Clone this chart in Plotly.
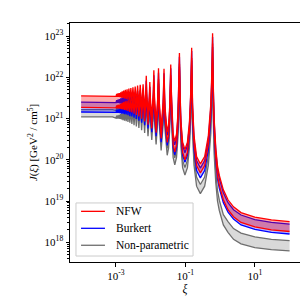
import plotly.graph_objects as go

# xi grid (read positions of resonances / troughs)
xi = [1e-4, 3e-4, 6e-4, 8e-4,
      0.001013, 0.001056, 0.001101, 0.001149, 0.001201, 0.001256, 0.001315, 0.001379, 0.001447, 0.00152,
      0.001599, 0.001684, 0.001777, 0.001877, 0.001985, 0.002104, 0.002233, 0.002375, 0.002531, 0.002702,
      0.002892, 0.003102, 0.003336, 0.003598, 0.003891, 0.004222, 0.004597, 0.005025, 0.005515, 0.00608,
      0.006737, 0.007262, 0.007506, 0.007763, 0.008415, 0.009154, 0.0095, 0.009867, 0.01081, 0.01189, 0.01241,
      0.01296, 0.01439, 0.01608, 0.01689, 0.01777, 0.0201, 0.02292, 0.02432, 0.02585,
      0.03003, 0.03288, 0.0353, 0.03689, 0.038, 0.03917, 0.04102, 0.04441, 0.04963, 0.05583, 0.06128, 0.06493, 0.06666, 0.06756,
      0.06847, 0.07034, 0.07485, 0.0834, 0.09728, 0.1149, 0.1315, 0.1433, 0.149, 0.152,
      0.1551, 0.1616, 0.1777, 0.2104, 0.2702, 0.3598, 0.4597, 0.5411, 0.5844, 0.608,
      0.6331, 0.6737, 0.7506, 0.8415, 0.95, 1.241,
      1.689, 2.432, 4, 10, 30, 100]

# log10 J values
nfw_hi = [21.55, 21.55, 21.55, 21.55,
          21.54, 21.60, 21.53, 21.61, 21.53, 21.62, 21.52, 21.64, 21.51, 21.66,
          21.50, 21.68, 21.49, 21.70, 21.48, 21.71, 21.46, 21.73, 21.44, 21.74,
          21.42, 21.76, 21.39, 21.78, 21.36, 21.80, 21.32, 21.82, 21.27, 21.83,
          21.20, 21.66, 22.04, 21.61, 21.12, 21.55, 21.89, 21.49, 21.03, 21.59, 22.17,
          21.50, 20.92, 21.51, 22.22, 21.40, 20.78, 21.39, 22.21, 21.30,
          20.68, 20.85, 21.27, 21.88, 22.31, 21.76, 21.11, 20.63, 20.45, 20.63, 21.12, 21.82, 22.40, 22.59,
          22.32, 21.65, 20.93, 20.43, 20.25, 20.43, 20.93, 21.67, 22.38, 22.72,
          22.16, 21.34, 20.59, 20.08, 19.90, 20.08, 20.59, 21.36, 22.23, 23.07,
          21.90, 21.00, 20.30, 19.85, 19.62, 19.27,
          19.03, 18.86, 18.72, 18.61, 18.54, 18.50]
nfw_lo = [21.27, 21.27, 21.27, 21.27,
          21.26, 21.32, 21.25, 21.33, 21.25, 21.34, 21.24, 21.36, 21.23, 21.38,
          21.22, 21.40, 21.21, 21.42, 21.20, 21.43, 21.18, 21.45, 21.16, 21.46,
          21.15, 21.49, 21.12, 21.51, 21.09, 21.53, 21.05, 21.55, 21.00, 21.56,
          20.93, 21.39, 21.77, 21.34, 20.85, 21.28, 21.62, 21.22, 20.76, 21.32, 21.90,
          21.24, 20.66, 21.25, 21.96, 21.14, 20.52, 21.13, 21.95, 21.04,
          20.42, 20.59, 21.01, 21.62, 22.05, 21.50, 20.85, 20.37, 20.19, 20.37, 20.86, 21.56, 22.14, 22.33,
          22.07, 21.40, 20.68, 20.18, 20.00, 20.18, 20.68, 21.42, 22.13, 22.47,
          21.94, 21.12, 20.37, 19.86, 19.68, 19.86, 20.37, 21.14, 22.01, 22.82,
          21.66, 20.76, 20.06, 19.61, 19.38, 19.03,
          18.79, 18.62, 18.48, 18.37, 18.30, 18.26]
bur_hi = [21.40, 21.40, 21.40, 21.40,
          21.39, 21.45, 21.38, 21.46, 21.38, 21.47, 21.37, 21.49, 21.36, 21.51,
          21.36, 21.54, 21.35, 21.56, 21.34, 21.57, 21.32, 21.59, 21.30, 21.60,
          21.29, 21.63, 21.26, 21.65, 21.23, 21.67, 21.19, 21.69, 21.14, 21.70,
          21.08, 21.54, 21.92, 21.49, 21.00, 21.43, 21.77, 21.37, 20.91, 21.47, 22.05,
          21.39, 20.81, 21.40, 22.11, 21.29, 20.67, 21.28, 22.10, 21.19,
          20.59, 20.76, 21.18, 21.79, 22.22, 21.67, 21.02, 20.54, 20.36, 20.54, 21.03, 21.73, 22.31, 22.50,
          22.24, 21.57, 20.85, 20.35, 20.17, 20.35, 20.85, 21.59, 22.30, 22.64,
          22.06, 21.24, 20.49, 19.98, 19.80, 19.98, 20.49, 21.26, 22.13, 22.98,
          21.83, 20.93, 20.23, 19.78, 19.55, 19.20,
          18.96, 18.79, 18.66, 18.55, 18.48, 18.44]
bur_lo = [21.16, 21.16, 21.16, 21.16,
          21.15, 21.21, 21.14, 21.22, 21.14, 21.23, 21.13, 21.25, 21.12, 21.27,
          21.12, 21.30, 21.11, 21.32, 21.10, 21.33, 21.08, 21.35, 21.06, 21.36,
          21.05, 21.39, 21.02, 21.41, 20.99, 21.43, 20.95, 21.45, 20.90, 21.46,
          20.84, 21.30, 21.68, 21.25, 20.76, 21.19, 21.53, 21.13, 20.67, 21.23, 21.81,
          21.15, 20.57, 21.16, 21.87, 21.05, 20.43, 21.04, 21.86, 20.95,
          20.35, 20.52, 20.94, 21.55, 21.98, 21.43, 20.78, 20.30, 20.12, 20.30, 20.79, 21.49, 22.07, 22.26,
          22.01, 21.34, 20.62, 20.12, 19.94, 20.12, 20.62, 21.36, 22.07, 22.41,
          21.82, 21.00, 20.25, 19.74, 19.56, 19.74, 20.25, 21.02, 21.89, 22.74,
          21.59, 20.69, 19.99, 19.54, 19.31, 18.96,
          18.73, 18.56, 18.42, 18.31, 18.24, 18.20]
np_hi = [21.22, 21.22, 21.22, 21.22,
         21.20, 21.26, 21.19, 21.27, 21.19, 21.28, 21.18, 21.30, 21.17, 21.32,
         21.14, 21.32, 21.13, 21.34, 21.12, 21.35, 21.10, 21.37, 21.08, 21.38,
         21.06, 21.40, 21.03, 21.42, 21.00, 21.44, 20.96, 21.46, 20.91, 21.47,
         20.84, 21.30, 21.68, 21.25, 20.76, 21.19, 21.53, 21.13, 20.67, 21.23, 21.81,
         21.12, 20.54, 21.13, 21.84, 21.02, 20.40, 21.01, 21.83, 20.92,
         20.28, 20.45, 20.87, 21.48, 21.91, 21.36, 20.71, 20.23, 20.05, 20.23, 20.72, 21.42, 22.00, 22.19,
         21.88, 21.21, 20.49, 19.99, 19.81, 19.99, 20.49, 21.23, 21.94, 22.28,
         21.66, 20.84, 20.09, 19.58, 19.40, 19.58, 20.09, 20.86, 21.73, 22.48,
         21.30, 20.40, 19.70, 19.25, 19.02, 18.67,
         18.50, 18.33, 18.22, 18.13, 18.07, 18.04]
np_lo = [21.04, 21.04, 21.04, 21.04,
         21.01, 21.07, 21.00, 21.08, 21.00, 21.09, 20.99, 21.11, 20.98, 21.13,
         20.96, 21.14, 20.95, 21.16, 20.94, 21.17, 20.92, 21.19, 20.90, 21.20,
         20.87, 21.21, 20.84, 21.23, 20.81, 21.25, 20.77, 21.27, 20.72, 21.28,
         20.65, 21.11, 21.49, 21.06, 20.57, 21.00, 21.34, 20.94, 20.48, 21.04, 21.62,
         20.95, 20.37, 20.96, 21.67, 20.85, 20.23, 20.84, 21.66, 20.75,
         20.11, 20.28, 20.70, 21.31, 21.74, 21.19, 20.54, 20.06, 19.88, 20.06, 20.55, 21.25, 21.83, 22.02,
         21.70, 21.03, 20.31, 19.81, 19.63, 19.81, 20.31, 21.05, 21.76, 22.10,
         21.44, 20.62, 19.87, 19.36, 19.18, 19.36, 19.87, 20.64, 21.51, 22.23,
         21.05, 20.15, 19.45, 19.00, 18.77, 18.42,
         18.24, 18.07, 17.96, 17.87, 17.82, 17.79]

legend_names = ["NFW", "Burkert", "Non-parametric"]

models = [
    ("Non-parametric", np_hi, np_lo, "#6e6e6e", "rgba(170,170,170,0.45)"),
    ("Burkert", bur_hi, bur_lo, "#0000ff", "rgba(0,0,255,0.28)"),
    ("NFW", nfw_hi, nfw_lo, "#ff0000", "rgba(255,0,0,0.33)"),
]
line_col = {m[0]: m[3] for m in models}

SERIF = "Liberation Serif"

fig = go.Figure()
for name, hi, lo, lc, fc in models:
    Jhi = [10.0 ** v for v in hi]
    Jlo = [10.0 ** v for v in lo]
    fig.add_trace(go.Scatter(x=xi + xi[::-1], y=Jhi + Jlo[::-1], fill="toself",
                             fillcolor=fc, line=dict(width=0), mode="lines",
                             showlegend=False, hoverinfo="skip"))
    fig.add_trace(go.Scatter(x=xi, y=Jhi, mode="lines", line=dict(color=lc, width=1.3),
                             showlegend=False, name=name))
    fig.add_trace(go.Scatter(x=xi, y=Jlo, mode="lines", line=dict(color=lc, width=1.3),
                             showlegend=False, name=name))

# legend drawn in the plot's paper coordinates
shapes = [dict(type="rect", xref="paper", yref="paper", x0=0.026, x1=0.535, y0=0.025, y1=0.247,
               line=dict(color="#cccccc", width=1), fillcolor="rgba(255,255,255,0.85)", layer="above")]
annotations = []
for i, nm in enumerate(legend_names):
    yy = 0.212 - i * 0.071
    shapes.append(dict(type="line", xref="paper", yref="paper", x0=0.048, x1=0.152, y0=yy, y1=yy,
                       line=dict(color=line_col[nm], width=1.3), layer="above"))
    annotations.append(dict(xref="paper", yref="paper", x=0.191, y=yy, text=nm, showarrow=False,
                            xanchor="left", yanchor="middle", font=dict(family=SERIF, size=11.5, color="black")))

ymaj = [10.0 ** e for e in range(18, 24)]
ymin = [m * 10.0 ** e for e in range(17, 24) for m in range(2, 10)]

fig.update_layout(
    width=308, height=308,
    margin=dict(l=62, r=16, t=15, b=54),
    paper_bgcolor="white", plot_bgcolor="white",
    font=dict(family=SERIF, size=10, color="black"),
    showlegend=False,
    shapes=shapes, annotations=annotations,
)
fig.update_xaxes(type="log", range=[-4.32, 2.30],
                 tickvals=[1e-3, 1e-1, 1e1],
                 ticktext=["10<sup>-3</sup>", "10<sup>-1</sup>", "10<sup>1</sup>"],
                 tickfont=dict(family=SERIF, size=11),
                 ticks="outside", ticklen=3.5, tickcolor="black",
                 showline=True, linecolor="black", linewidth=1, mirror=True,
                 showgrid=False, zeroline=False,
                 title=dict(text="<i>ξ</i>", standoff=4, font=dict(family=SERIF, size=11.5)))
fig.update_yaxes(type="log", range=[17.52, 23.32],
                 tickvals=ymaj,
                 ticktext=["10<sup>%d</sup>" % e for e in range(18, 24)],
                 tickfont=dict(family=SERIF, size=11),
                 ticks="outside", ticklen=3.5, tickcolor="black",
                 minor=dict(tickvals=ymin, ticks="outside", ticklen=2, tickcolor="black", tickwidth=0.6),
                 showline=True, linecolor="black", linewidth=1, mirror=True,
                 showgrid=False, zeroline=False,
                 title=dict(text="<i>J</i>(<i>ξ</i>) [GeV<sup>2</sup> / cm<sup>5</sup>]", standoff=4,
                            font=dict(family=SERIF, size=11)))

fig.write_html("out.html")
